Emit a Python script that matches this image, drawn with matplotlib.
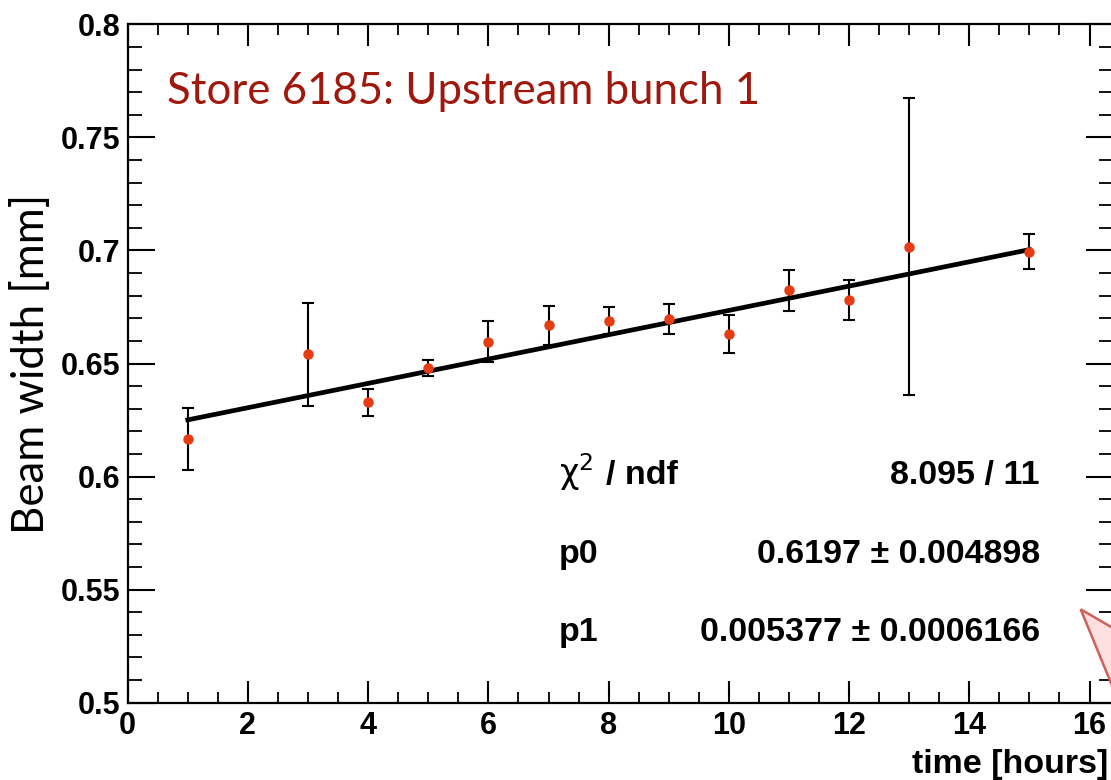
#!/usr/bin/env python3

import numpy as np
import matplotlib
from matplotlib import pyplot as plt
from matplotlib.patches import Polygon
from matplotlib.ticker import MultipleLocator

matplotlib.use("Agg")

# data
hours = [1, 3, 4, 5, 6, 7, 8, 9, 10, 11, 12, 13, 15]
width = [0.6167, 0.6541, 0.6328, 0.6479, 0.6597, 0.6669, 0.6689, 0.6697, 0.6632, 0.6824, 0.6781, 0.7017, 0.6994]
width_err = [0.0138, 0.0227, 0.0058, 0.0035, 0.0090, 0.0085, 0.0060, 0.0067, 0.0084, 0.0090, 0.0088, 0.0656, 0.0078]

# fit result
p0 = 0.6197
p1 = 0.005377
chi2_text = "8.095 / 11"
p0_text = "0.6197 \u00b1 0.004898"
p1_text = "0.005377 \u00b1 0.0006166"

title = "Store 6185: Upstream bunch 1"

W, H = 1111, 780
fig = plt.figure(figsize=(W / 100, H / 100), dpi=100)
ax = fig.add_axes([127.7 / W, 1 - 702.7 / H, (1113 - 127.7) / W, (702.7 - 24.3) / H])

tickfont = dict(family="Liberation Sans", weight="bold", size=22)
statfont = dict(family="Liberation Sans", weight="bold", size=24.5)

ax.set_xlim(0, 16.39)
ax.set_ylim(0.5, 0.8)
ax.xaxis.set_minor_locator(MultipleLocator(0.5))
ax.yaxis.set_minor_locator(MultipleLocator(0.01))
ax.set_xticks([0, 2, 4, 6, 8, 10, 12, 14, 16])
ax.set_xticklabels(["0", "2", "4", "6", "8", "10", "12", "14", "16"], fontdict=tickfont)
ax.set_yticks([0.5, 0.55, 0.6, 0.65, 0.7, 0.75, 0.8])
ax.set_yticklabels(["0.5", "0.55", "0.6", "0.65", "0.7", "0.75", "0.8"], fontdict=tickfont)

ax.tick_params(axis="both", which="both", direction="in", top=True, right=True, color="black")
ax.tick_params(axis="y", which="major", length=19.5, width=1.5, pad=5)
ax.tick_params(axis="y", which="minor", length=10, width=1.3)
ax.tick_params(axis="x", which="major", length=16, width=1.5, pad=6)
ax.tick_params(axis="x", which="minor", length=8, width=1.3)
for s in ax.spines.values():
    s.set_linewidth(1.6)

# fit line
xf = np.array([hours[0], hours[-1]])
ax.plot(xf, p0 + p1 * xf, color="black", linewidth=3.4, zorder=2)

ax.errorbar(hours, width, yerr=width_err, fmt="o", color="#e63c14", markersize=6.5,
            ecolor="black", elinewidth=1.5, capsize=4, capthick=1.5, zorder=3)

ax.set_ylabel("Beam width [mm]", family="Lato", fontsize=31.5)
ax.yaxis.set_label_coords((52 - 127.7) / 985, 0.5)
fig.text(1108 / W, 1 - 773 / H, "time [hours]", ha="right", va="baseline", **statfont)

fig.text(167 / W, 1 - 104 / H, title, family="Lato", fontsize=31.5, color="#a0170c",
         va="baseline", ha="left")

# fit statistics
fig.text(559 / W, 1 - 484 / H, r"$\mathrm{\chi}^{2}$", family="DejaVu Sans", fontsize=24, va="baseline")
fig.text(606 / W, 1 - 484 / H, "/ ndf", va="baseline", **statfont)
fig.text(1040 / W, 1 - 484 / H, chi2_text, ha="right", va="baseline", **statfont)
fig.text(559 / W, 1 - 563 / H, "p0", va="baseline", **statfont)
fig.text(1040 / W, 1 - 563 / H, p0_text, ha="right", va="baseline", **statfont)
fig.text(559 / W, 1 - 641 / H, "p1", va="baseline", **statfont)
fig.text(1040 / W, 1 - 641 / H, p1_text, ha="right", va="baseline", **statfont)

# callout edge at bottom right
tri = [(1080.7 / W, 1 - 609.3 / H), (1125 / W, 1 - 635 / H), (1125 / W, 1 - 717 / H)]
fig.patches.append(Polygon(tri, closed=True, transform=fig.transFigure, facecolor="#fde0e0",
                           edgecolor="#d0605a", linewidth=1.8, zorder=5))

plt.savefig("out.png", dpi=100)
print("Saved out.png")
